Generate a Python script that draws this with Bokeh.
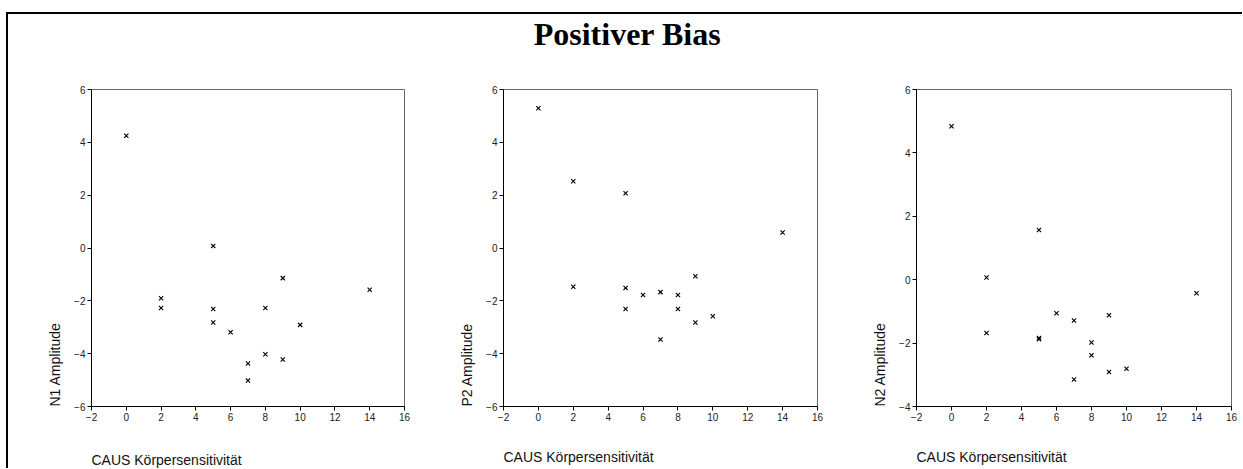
from bokeh.plotting import figure
from bokeh.layouts import row, column
from bokeh.models import Range1d, FixedTicker, Title, Spacer
from bokeh.embed import file_html
from bokeh.resources import INLINE
from bokeh.core.properties import value

# ---------------- data ----------------
title_text = "Positiver Bias"
x_label = "CAUS Körpersensitivität"
y_labels = ["N1 Amplitude", "P2 Amplitude", "N2 Amplitude"]

caus = [0, 2, 2, 5, 5, 5, 6, 7, 7, 8, 8, 9, 9, 10, 14]
n1 = [4.25, -1.90, -2.27, 0.08, -2.31, -2.82, -3.19, -4.37, -5.02, -2.27, -4.02, -1.14, -4.22, -2.91, -1.58]
p2 = [5.29, 2.53, -1.47, 2.07, -1.51, -2.31, -1.78, -1.67, -3.46, -1.78, -2.31, -1.07, -2.82, -2.58, 0.59]
n2 = [4.84, 0.07, -1.68, 1.57, -1.84, -1.88, -1.06, -1.29, -3.15, -1.98, -2.38, -1.12, -2.91, -2.81, -0.43]

x_ticks = [-2, 0, 2, 4, 6, 8, 10, 12, 14, 16]
y_ticks_a = [-6, -4, -2, 0, 2, 4, 6]
y_ticks_b = [-4, -2, 0, 2, 4, 6]

SANS = "Liberation Sans"
HEAD_H = 40
FIG_H = 414


def panel(y, ylabel, yticks, width, mbl, mbr, mbb, gap):
    p = figure(width=width, height=FIG_H,
               x_range=Range1d(x_ticks[0], x_ticks[-1]),
               y_range=Range1d(yticks[0], yticks[-1]),
               output_backend="svg", toolbar_location=None,
               min_border_left=mbl, min_border_right=mbr,
               min_border_top=35, min_border_bottom=mbb)
    p.grid.visible = False
    p.outline_line_color = "#666666"
    p.outline_line_width = 1
    p.background_fill_color = "white"
    p.border_fill_color = "white"
    p.scatter(caus, y, marker="x", size=6, line_color="black", line_width=1.1)
    p.xaxis.ticker = FixedTicker(ticks=x_ticks)
    p.yaxis.ticker = FixedTicker(ticks=yticks)
    for ax in (p.xaxis[0], p.yaxis[0]):
        ax.major_tick_out = 4
        ax.major_tick_in = 0
        ax.minor_tick_line_color = None
        ax.axis_line_color = "black"
        ax.major_tick_line_color = "black"
        ax.major_label_text_font = SANS
        ax.major_label_text_font_size = "10px"
        ax.major_label_text_color = "#222222"
        ax.major_label_standoff = 2
    # spacer between tick labels and the x label
    p.add_layout(Title(text=" ", text_font_size="2px", standoff=gap), "below")
    xt = Title(text=x_label, align="left", text_font=SANS, text_font_size="14px",
               text_font_style="normal", text_color="#111111", standoff=0,
               vertical_align="bottom")
    p.add_layout(xt, "below")
    yt = Title(text=ylabel, align="left", text_font=SANS, text_font_size="14px",
               text_font_style="normal", text_color="#111111", standoff=18)
    p.add_layout(yt, "left")
    return p


f1 = panel(n1, y_labels[0], y_ticks_a, 402, 83, 6, 62, 22)
f2 = panel(p2, y_labels[1], y_ticks_a, 413, 93, 6, 59, 19)
f3 = panel(n2, y_labels[2], y_ticks_b, 417, 93, 9, 59, 19)

ROW_W = 402 + 413 + 417

header = figure(width=ROW_W, height=HEAD_H, x_range=Range1d(0, 1), y_range=Range1d(0, 1),
                output_backend="svg", toolbar_location=None,
                x_axis_type=None, y_axis_type=None, min_border=0)
header.grid.visible = False
header.outline_line_color = None
header.text(x=[0.5024], y=[0.525], text=[title_text],
            text_font=value("Liberation Serif"), text_font_style="bold",
            text_font_size="32px", text_align="center", text_baseline="alphabetic",
            text_color="black")

black = {"background-color": "black"}
top_gap = Spacer(width=10, height=12)
top_bar = row(Spacer(width=6, height=2), Spacer(width=ROW_W + 4, height=2, styles=black))
left_bar = Spacer(width=2, height=HEAD_H + FIG_H, styles=black)
body = row(Spacer(width=6, height=HEAD_H + FIG_H), left_bar, column(header, row(f1, f2, f3)))

layout = column(top_gap, top_bar, body)

open("out.html", "w").write(file_html(layout, INLINE))
